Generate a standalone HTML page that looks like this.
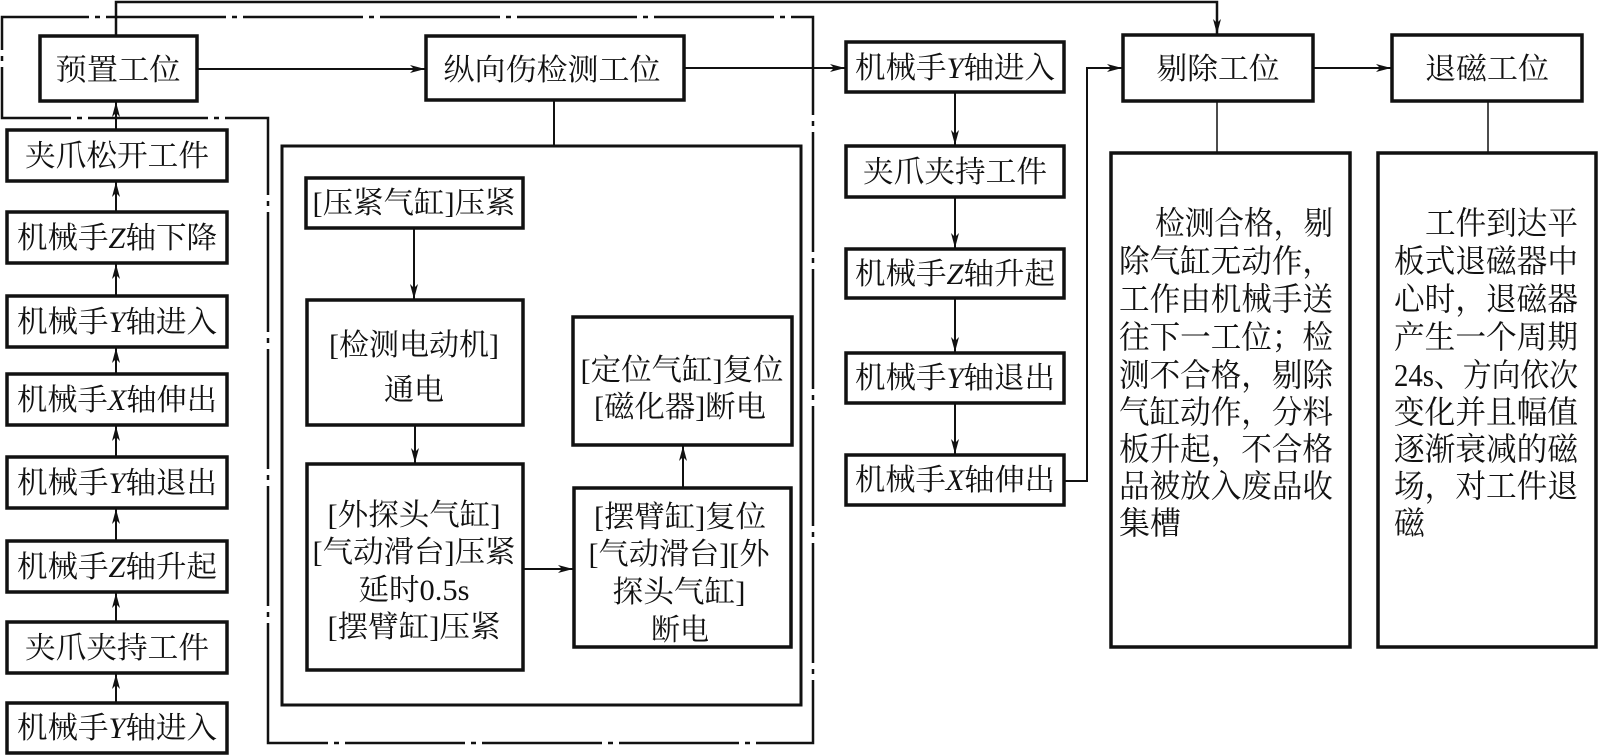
<!DOCTYPE html>
<html><head><meta charset="utf-8"><style>
html,body{margin:0;padding:0;background:#fff;}
svg{display:block;}
text{font-family:"Liberation Serif","Noto Serif CJK SC",serif;font-size:30px;fill:#111;}
</style></head><body>
<svg width="1598" height="755" viewBox="0 0 1598 755" xmlns="http://www.w3.org/2000/svg">
<defs>
<marker id="a" markerWidth="16" markerHeight="10" refX="15" refY="5" orient="auto" markerUnits="userSpaceOnUse">
<path d="M0,1 L15,5 L0,9 L4,5 Z" fill="#111"/>
</marker>
</defs>
<g fill="none" stroke="#111">
<!-- dash-dot loop -->
<path d="M268 743 L268 118 L2 118 L2 17 L813 17 L813 743 Z" stroke-width="2.5" stroke-dasharray="120 6 5 6"/>
<!-- top line -->
<path d="M116 36 V2 H1217 V34" stroke-width="2.5" marker-end="url(#a)"/>
<!-- boxes -->
<g stroke-width="3.5">
<rect x="40" y="36" width="157" height="65"/>
<rect x="426" y="36" width="258" height="64"/>
<rect x="7" y="130" width="220" height="51"/>
<rect x="7" y="212" width="220" height="51"/>
<rect x="7" y="296" width="220" height="51"/>
<rect x="7" y="374" width="220" height="51"/>
<rect x="7" y="457" width="220" height="51"/>
<rect x="7" y="541" width="220" height="51"/>
<rect x="7" y="622" width="220" height="51"/>
<rect x="7" y="703" width="220" height="50"/>
<rect x="306" y="178" width="217" height="50"/>
<rect x="307" y="300" width="216" height="125"/>
<rect x="307" y="464" width="216" height="206"/>
<rect x="573" y="317" width="219" height="128"/>
<rect x="574" y="488" width="217" height="159"/>
<rect x="846" y="42" width="218" height="50"/>
<rect x="846" y="146" width="218" height="51"/>
<rect x="846" y="249" width="218" height="49"/>
<rect x="846" y="353" width="218" height="50"/>
<rect x="846" y="455" width="218" height="50"/>
<rect x="1123" y="35" width="190" height="66"/>
<rect x="1392" y="35" width="190" height="66"/>
<rect x="1111" y="153" width="239" height="494"/>
<rect x="1378" y="153" width="218" height="494"/>
</g>
<rect x="282" y="146" width="519" height="559" stroke-width="3"/>
<!-- connectors -->
<g stroke-width="2">
<path d="M197 69 H425" marker-end="url(#a)"/>
<path d="M684 68 H845" marker-end="url(#a)"/>
<path d="M1313 68 H1391" marker-end="url(#a)"/>
<path d="M1064 481 H1087 V68 H1122" marker-end="url(#a)"/>
<path d="M554 100 V146"/>
<path d="M1217 101 V153" stroke-width="1.5"/>
<path d="M1488 101 V153" stroke-width="1.5"/>
<path d="M116 130 V102" marker-end="url(#a)"/>
<path d="M116 212 V182" marker-end="url(#a)"/>
<path d="M116 296 V264" marker-end="url(#a)"/>
<path d="M116 374 V348" marker-end="url(#a)"/>
<path d="M116 457 V426" marker-end="url(#a)"/>
<path d="M116 541 V509" marker-end="url(#a)"/>
<path d="M116 622 V593" marker-end="url(#a)"/>
<path d="M116 703 V674" marker-end="url(#a)"/>
<path d="M414 228 V299" marker-end="url(#a)"/>
<path d="M415 425 V463" marker-end="url(#a)"/>
<path d="M523 569 H573" marker-end="url(#a)"/>
<path d="M683 488 V446" marker-end="url(#a)"/>
<path d="M955 92 V145" marker-end="url(#a)"/>
<path d="M955 197 V248" marker-end="url(#a)"/>
<path d="M955 298 V352" marker-end="url(#a)"/>
<path d="M955 403 V454" marker-end="url(#a)"/>
</g>
</g>
<g text-anchor="middle" lengthAdjust="spacingAndGlyphs">
<text x="118" y="80" textLength="125" lengthAdjust="spacingAndGlyphs">预置工位</text>
<text x="552" y="80" textLength="217" lengthAdjust="spacingAndGlyphs">纵向伤检测工位</text>
<text x="117" y="166" textLength="184" lengthAdjust="spacingAndGlyphs">夹爪松开工件</text>
<text x="117" y="248" textLength="200" lengthAdjust="spacingAndGlyphs">机械手<tspan font-style="italic">Z</tspan>轴下降</text>
<text x="117" y="332" textLength="200" lengthAdjust="spacingAndGlyphs">机械手<tspan font-style="italic">Y</tspan>轴进入</text>
<text x="117" y="410" textLength="200" lengthAdjust="spacingAndGlyphs">机械手<tspan font-style="italic">X</tspan>轴伸出</text>
<text x="117" y="493" textLength="200" lengthAdjust="spacingAndGlyphs">机械手<tspan font-style="italic">Y</tspan>轴退出</text>
<text x="117" y="577" textLength="200" lengthAdjust="spacingAndGlyphs">机械手<tspan font-style="italic">Z</tspan>轴升起</text>
<text x="117" y="658" textLength="184" lengthAdjust="spacingAndGlyphs">夹爪夹持工件</text>
<text x="117" y="738" textLength="200" lengthAdjust="spacingAndGlyphs">机械手<tspan font-style="italic">Y</tspan>轴进入</text>
<text x="414" y="213" textLength="203" lengthAdjust="spacingAndGlyphs">[压紧气缸]压紧</text>
<text x="414" y="355" textLength="170" lengthAdjust="spacingAndGlyphs">[检测电动机]</text>
<text x="414" y="400" textLength="60" lengthAdjust="spacingAndGlyphs">通电</text>
<text x="414" y="525" textLength="173" lengthAdjust="spacingAndGlyphs">[外探头气缸]</text>
<text x="414" y="562" textLength="203" lengthAdjust="spacingAndGlyphs">[气动滑台]压紧</text>
<text x="414" y="600" textLength="111" lengthAdjust="spacingAndGlyphs">延时0.5s</text>
<text x="414" y="637" textLength="173" lengthAdjust="spacingAndGlyphs">[摆臂缸]压紧</text>
<text x="682" y="380" textLength="203" lengthAdjust="spacingAndGlyphs">[定位气缸]复位</text>
<text x="680" y="417" textLength="172" lengthAdjust="spacingAndGlyphs">[磁化器]断电</text>
<text x="680" y="527" textLength="172" lengthAdjust="spacingAndGlyphs">[摆臂缸]复位</text>
<text x="679" y="564" textLength="181" lengthAdjust="spacingAndGlyphs">[气动滑台][外</text>
<text x="679" y="602" textLength="133" lengthAdjust="spacingAndGlyphs">探头气缸]</text>
<text x="680" y="640" textLength="58" lengthAdjust="spacingAndGlyphs">断电</text>
<text x="955" y="78" textLength="200" lengthAdjust="spacingAndGlyphs">机械手<tspan font-style="italic">Y</tspan>轴进入</text>
<text x="955" y="182" textLength="184" lengthAdjust="spacingAndGlyphs">夹爪夹持工件</text>
<text x="955" y="284" textLength="200" lengthAdjust="spacingAndGlyphs">机械手<tspan font-style="italic">Z</tspan>轴升起</text>
<text x="955" y="388" textLength="200" lengthAdjust="spacingAndGlyphs">机械手<tspan font-style="italic">Y</tspan>轴退出</text>
<text x="955" y="490" textLength="200" lengthAdjust="spacingAndGlyphs">机械手<tspan font-style="italic">X</tspan>轴伸出</text>
<text x="1218" y="79" textLength="123" lengthAdjust="spacingAndGlyphs">剔除工位</text>
<text x="1487" y="79" textLength="124" lengthAdjust="spacingAndGlyphs">退磁工位</text>
</g>
<g font-size="32">
<text x="1155" y="234" textLength="178" lengthAdjust="spacingAndGlyphs" style="font-size:32px">检测合格，剔</text>
<text x="1119" y="272" textLength="214" lengthAdjust="spacingAndGlyphs" style="font-size:32px">除气缸无动作，</text>
<text x="1119" y="310" textLength="214" lengthAdjust="spacingAndGlyphs" style="font-size:32px">工作由机械手送</text>
<text x="1119" y="348" textLength="214" lengthAdjust="spacingAndGlyphs" style="font-size:32px">往下一工位；检</text>
<text x="1119" y="386" textLength="214" lengthAdjust="spacingAndGlyphs" style="font-size:32px">测不合格，剔除</text>
<text x="1119" y="423" textLength="214" lengthAdjust="spacingAndGlyphs" style="font-size:32px">气缸动作，分料</text>
<text x="1119" y="460" textLength="214" lengthAdjust="spacingAndGlyphs" style="font-size:32px">板升起，不合格</text>
<text x="1119" y="497" textLength="214" lengthAdjust="spacingAndGlyphs" style="font-size:32px">品被放入废品收</text>
<text x="1119" y="534" textLength="62" lengthAdjust="spacingAndGlyphs" style="font-size:32px">集槽</text>
<text x="1425" y="234" textLength="153" lengthAdjust="spacingAndGlyphs" style="font-size:32px">工件到达平</text>
<text x="1394" y="272" textLength="184" lengthAdjust="spacingAndGlyphs" style="font-size:32px">板式退磁器中</text>
<text x="1394" y="310" textLength="184" lengthAdjust="spacingAndGlyphs" style="font-size:32px">心时，退磁器</text>
<text x="1394" y="348" textLength="184" lengthAdjust="spacingAndGlyphs" style="font-size:32px">产生一个周期</text>
<text x="1394" y="386" textLength="184" lengthAdjust="spacingAndGlyphs" style="font-size:32px">24s、方向依次</text>
<text x="1394" y="423" textLength="184" lengthAdjust="spacingAndGlyphs" style="font-size:32px">变化并且幅值</text>
<text x="1394" y="460" textLength="184" lengthAdjust="spacingAndGlyphs" style="font-size:32px">逐渐衰减的磁</text>
<text x="1394" y="497" textLength="184" lengthAdjust="spacingAndGlyphs" style="font-size:32px">场，对工件退</text>
<text x="1394" y="534" textLength="31" lengthAdjust="spacingAndGlyphs" style="font-size:32px">磁</text>
</g>
</svg>
</body></html>
